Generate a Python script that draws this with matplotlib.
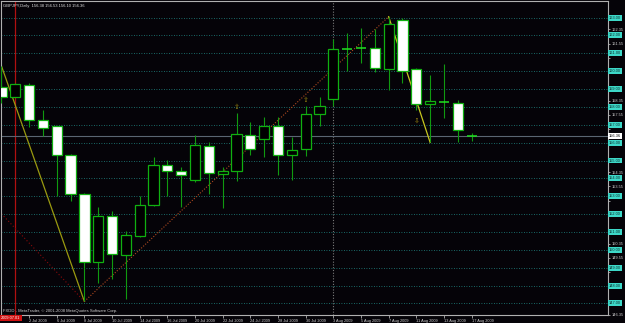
import numpy as np
import matplotlib
matplotlib.use("Agg")
import matplotlib.pyplot as plt

plt.rcParams['font.family'] = ['Liberation Sans', 'DejaVu Sans']

# GBPJPY daily bars, 30 Jun 2009 .. 17 Aug 2009
dates = ['30 Jun', '1 Jul', '2 Jul', '3 Jul', '6 Jul', '7 Jul', '8 Jul', '9 Jul', '10 Jul',
         '13 Jul', '14 Jul', '15 Jul', '16 Jul', '17 Jul', '20 Jul', '21 Jul', '22 Jul',
         '23 Jul', '24 Jul', '27 Jul', '28 Jul', '29 Jul', '30 Jul', '31 Jul', '3 Aug',
         '4 Aug', '5 Aug', '6 Aug', '7 Aug', '10 Aug', '11 Aug', '12 Aug', '13 Aug',
         '14 Aug', '17 Aug']
opens = [159.14, 158.58, 159.23, 157.26, 156.91, 155.28, 153.13, 149.33, 151.92,
         149.70, 150.80, 152.51, 154.75, 154.41, 153.89, 155.83, 154.25,
         154.39, 156.44, 156.20, 156.91, 155.32, 155.64, 157.60, 158.44,
         161.23, 161.34, 161.32, 160.13, 162.87, 160.13, 158.16, 158.30,
         158.23, 156.38]
highs = [160.30, 159.35, 159.33, 157.84, 156.95, 155.38, 153.20, 152.38, 152.16,
         151.04, 153.03, 155.17, 155.04, 154.64, 156.44, 156.05, 154.64,
         157.65, 157.15, 157.45, 157.45, 156.31, 158.06, 158.55, 161.79,
         162.16, 162.40, 162.35, 163.05, 162.96, 160.20, 159.79, 160.39,
         158.40, 156.53]
lows = [158.23, 158.54, 156.85, 156.38, 152.99, 152.71, 147.11, 148.12, 148.34,
        147.22, 150.73, 152.48, 153.03, 152.40, 153.78, 153.15, 152.32,
        153.83, 155.32, 155.17, 154.17, 153.89, 155.23, 156.94, 158.06,
        160.02, 160.45, 159.98, 158.96, 159.36, 157.84, 156.01, 157.37,
        156.01, 156.10]
closes = [158.56, 159.27, 157.24, 156.83, 155.29, 153.13, 149.29, 151.92, 149.78,
          150.85, 152.53, 154.75, 154.41, 154.19, 155.87, 154.30, 154.39,
          156.50, 155.64, 156.93, 155.31, 155.59, 157.60, 158.06, 161.25,
          161.27, 161.30, 160.17, 162.64, 160.03, 158.17, 158.34, 158.30,
          156.72, 156.36]

# zigzag legs (bar index, price)
zz_down1 = ([0, 6], [160.30, 147.11])
zz_up = ([6, 28], [147.11, 163.05])
zz_down2 = ([28, 31], [163.05, 156.01])
zz_old = ([0, 6], [152.02, 147.11])

fractal_up = ([17, 22], [157.80, 158.20])
fractal_dn = ([30], [157.40])

level_lines = list(range(147, 164))           # dotted horizontal levels
scale_ticks = [146.35 + 0.8 * k for k in range(22)]
bid = 156.36
date_ticks = list(range(2, 35, 2))
date_labels = ['2 Jul 2009', '6 Jul 2009', '8 Jul 2009', '10 Jul 2009', '14 Jul 2009',
               '16 Jul 2009', '20 Jul 2009', '22 Jul 2009', '24 Jul 2009', '28 Jul 2009',
               '30 Jul 2009', '3 Aug 2009', '5 Aug 2009', '7 Aug 2009', '11 Aug 2009',
               '13 Aug 2009', '17 Aug 2009']

bg = '#050308'
fig = plt.figure(figsize=(6.25, 3.23), dpi=100, facecolor=bg)
ax = fig.add_axes([1 / 625, 8 / 323, 607 / 625, 314 / 323], facecolor=bg)

x = np.arange(len(opens))
o = np.array(opens); c = np.array(closes); h = np.array(highs); l = np.array(lows)

# levels, separators, bid line
for p in level_lines:
    ax.axhline(p, color='#208a86', lw=0.6, ls=(0, (1, 2)), zorder=1)
ax.axvline(1, color='#b01010', lw=0.9, zorder=1)
ax.axvline(24, color='#7a7a7a', lw=0.8, ls=(0, (1, 1.5)), zorder=1)
ax.axhline(bid, color='#5a6572', lw=0.8, zorder=1)

# zigzag
ax.plot(*zz_old, color='#8a0a0a', lw=0.8, ls=(0, (1, 2)), zorder=2)
ax.plot(*zz_down1, color='#9a9a10', lw=0.9, zorder=2)
ax.plot(*zz_up, color='#b04a20', lw=0.8, ls=(0, (1, 1.5)), zorder=2)
ax.plot(*zz_down2, color='#c8c820', lw=0.9, zorder=2)

# candles
ax.vlines(x, l, h, color='#109a10', lw=0.8, zorder=3)
bull = c >= o
body_lo = np.minimum(o, c)
body_hi = np.maximum(o, c)
size = np.maximum(body_hi - body_lo, 0.001)
doji = (body_hi - body_lo) < 0.06
face = np.where(bull, '#000000', '#ffffff')
ax.bar(x[~doji], size[~doji], bottom=body_lo[~doji], width=0.74,
       color=face[~doji], edgecolor='#10b010', linewidth=0.9, zorder=4)
ax.hlines(c[doji], x[doji] - 0.37, x[doji] + 0.37, color='#20e020', lw=1.1, zorder=4)

# fractals
for fx, fy in zip(*fractal_up):
    ax.text(fx, fy, '\u21e7', color='#a08a10', fontsize=5, ha='center', va='bottom',
            family=['DejaVu Sans'], zorder=5)
for fx, fy in zip(*fractal_dn):
    ax.text(fx, fy, '\u21e9', color='#a08a10', fontsize=5, ha='center', va='top',
            family=['DejaVu Sans'], zorder=5)

ax.set_xlim(-0.03, 43.86)
ax.set_ylim(146.39, 163.93)

for s in ax.spines.values():
    s.set_color('#b0b0b0')
    s.set_linewidth(0.8)

# right price scale (labels hidden behind level boxes are left blank)
boxed = level_lines + [bid]
ax.yaxis.tick_right()
ax.set_yticks(scale_ticks)
ax.set_yticklabels(['' if min(abs(v - b) for b in boxed) < 0.3 else '%.2f' % v
                    for v in scale_ticks])
ax.tick_params(axis='y', colors='#d0d0d0', labelsize=2.8, length=1.5, width=0.5, pad=0.8)
for p in level_lines:
    ax.text(1.0015, p, '%.2f' % p, transform=ax.get_yaxis_transform(), fontsize=2.8,
            color='#0a2a2a', va='center', ha='left', zorder=10, clip_on=False,
            bbox=dict(boxstyle='square,pad=0.25', fc='#3dd8c8', ec='none'))
ax.text(1.0015, bid, '%.2f' % bid, transform=ax.get_yaxis_transform(), fontsize=2.8,
        color='#000000', va='center', ha='left', zorder=10, clip_on=False,
        bbox=dict(boxstyle='square,pad=0.25', fc='#ffffff', ec='none'))

# time scale
ax.set_xticks(date_ticks)
ax.set_xticklabels(date_labels, ha='left')
ax.tick_params(axis='x', colors='#d0d0d0', labelsize=2.8, length=2, width=0.5, pad=0.6)
ax.text(0.0, -0.004, '2009.07.01', transform=ax.transAxes, fontsize=2.8, color='#ffffff',
        va='top', ha='left', zorder=10, clip_on=False,
        bbox=dict(boxstyle='square,pad=0.3', fc='#d01010', ec='none'))

ax.text(0.004, 0.992, 'GBPJPY,Daily  156.38 156.53 156.10 156.36', transform=ax.transAxes,
        fontsize=3.0, color='#e0e0e0', va='top', ha='left')
ax.text(0.004, 0.006, 'FXDD - MetaTrader, \u00a9 2001-2008 MetaQuotes Software Corp.',
        transform=ax.transAxes, fontsize=3.0, color='#d0d0d0', va='bottom', ha='left')

fig.savefig('out.png', dpi=100, facecolor=bg)
